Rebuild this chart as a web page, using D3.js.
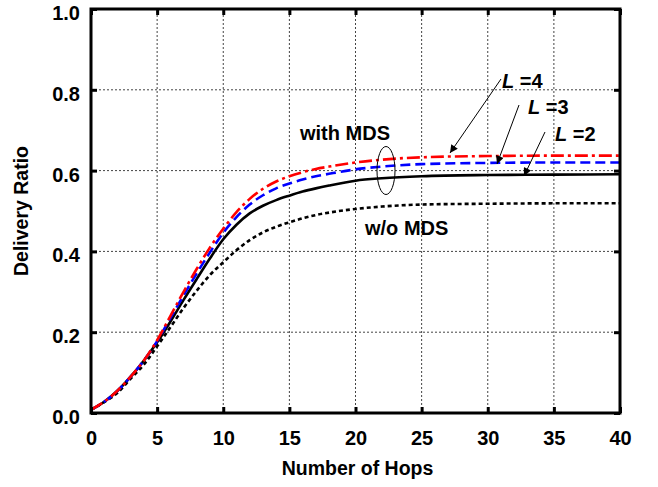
<!DOCTYPE html>
<html>
<head>
<meta charset="utf-8">
<script src="https://cdn.jsdelivr.net/npm/d3@7"></script>
<style>
  html, body { margin: 0; padding: 0; background: #fff; }
  svg { display: block; font-family: "Liberation Sans", Arial, sans-serif; font-weight: bold; }
</style>
</head>
<body>
<svg id="chart" width="658" height="487"></svg>
<script>
// Delivery ratio vs. number of hops
const hops = [0, 1, 2, 3, 4, 5, 6, 7, 8, 9, 10, 11, 12, 13, 14, 15, 16, 17, 18, 20, 22, 25, 30, 35, 40];
const withMdsL4 = [0.008, 0.028, 0.055, 0.09, 0.13, 0.18, 0.24, 0.30, 0.357, 0.41, 0.456, 0.497, 0.530, 0.555, 0.573, 0.586, 0.596, 0.604, 0.610, 0.620, 0.627, 0.633, 0.636, 0.637, 0.637];
const withMdsL3 = [0.008, 0.028, 0.055, 0.09, 0.13, 0.178, 0.235, 0.291, 0.346, 0.398, 0.446, 0.485, 0.516, 0.539, 0.556, 0.568, 0.578, 0.586, 0.592, 0.603, 0.610, 0.616, 0.619, 0.620, 0.620];
const withMdsL2 = [0.008, 0.028, 0.055, 0.09, 0.13, 0.175, 0.226, 0.28, 0.332, 0.383, 0.430, 0.466, 0.494, 0.513, 0.527, 0.538, 0.548, 0.556, 0.563, 0.575, 0.581, 0.586, 0.589, 0.590, 0.591];
const withoutMds = [0.008, 0.027, 0.05, 0.085, 0.12, 0.165, 0.212, 0.26, 0.303, 0.342, 0.373, 0.403, 0.428, 0.447, 0.461, 0.472, 0.482, 0.490, 0.496, 0.505, 0.511, 0.516, 0.518, 0.519, 0.519];
const xTicks = [0, 5, 10, 15, 20, 25, 30, 35, 40];
const yTicks = [0.0, 0.2, 0.4, 0.6, 0.8, 1.0];

const svg = d3.select("#chart");
const x = d3.scaleLinear().domain([0, 40]).range([91, 620]);
const y = d3.scaleLinear().domain([0, 1]).range([413, 9]);

// dotted grid
const grid = svg.append("g").attr("stroke", "#444").attr("stroke-width", 1).attr("stroke-dasharray", "2,2");
xTicks.slice(1, -1).forEach(t => grid.append("line")
  .attr("x1", x(t)).attr("x2", x(t)).attr("y1", y(0)).attr("y2", y(1)));
yTicks.slice(1, -1).forEach(t => grid.append("line")
  .attr("x1", x(0)).attr("x2", x(40)).attr("y1", y(t)).attr("y2", y(t)));

// curves
const line = d3.line().x((d, i) => x(hops[i])).y(d => y(d)).curve(d3.curveMonotoneX);
const series = [
  { v: withoutMds, color: "#000", dash: "4,3" },
  { v: withMdsL2, color: "#000", dash: null },
  { v: withMdsL3, color: "#0000ff", dash: "10,5" },
  { v: withMdsL4, color: "#ff0000", dash: "13,4,3,4" }
];
series.forEach(s => svg.append("path")
  .attr("d", line(s.v))
  .attr("fill", "none")
  .attr("stroke", s.color)
  .attr("stroke-width", 2.6)
  .attr("stroke-dasharray", s.dash));

// axes with inward ticks on all four sides
const tickLen = 6;
const axB = svg.append("g").attr("transform", `translate(0,${y(0)})`)
  .call(d3.axisBottom(x).tickValues(xTicks).tickSize(-tickLen).tickPadding(18).tickFormat(d3.format("d")));
const axT = svg.append("g").attr("transform", `translate(0,${y(1)})`)
  .call(d3.axisTop(x).tickValues(xTicks).tickSize(-tickLen).tickFormat(""));
const axL = svg.append("g").attr("transform", `translate(${x(0)},0)`)
  .call(d3.axisLeft(y).tickValues(yTicks).tickSize(-tickLen).tickPadding(11).tickFormat(d3.format(".1f")));
const axR = svg.append("g").attr("transform", `translate(${x(40)},0)`)
  .call(d3.axisRight(y).tickValues(yTicks).tickSize(-tickLen).tickFormat(""));
[axB, axT, axL, axR].forEach(a => {
  a.select(".domain").remove();
  a.selectAll(".tick line").attr("stroke", "#000").attr("stroke-width", 3);
  a.selectAll("text").attr("font-family", "'Liberation Sans', Arial, sans-serif")
    .attr("font-weight", "bold").attr("font-size", 20).attr("fill", "#000");
});
// value labels sit slightly below their ticks
axL.selectAll("text").attr("dy", "0.52em");

// frame
svg.append("rect").attr("x", x(0)).attr("y", y(1))
  .attr("width", x(40) - x(0)).attr("height", y(0) - y(1))
  .attr("fill", "none").attr("stroke", "#000").attr("stroke-width", 3);

// axis titles
svg.append("text").attr("x", (x(0) + x(40)) / 2 + 2).attr("y", 475)
  .attr("text-anchor", "middle").attr("font-size", 19.5).text("Number of Hops");
svg.append("text").attr("transform", `translate(28,${(y(0) + y(1)) / 2}) rotate(-90)`)
  .attr("text-anchor", "middle").attr("font-size", 19.5).text("Delivery Ratio");

// annotations
svg.append("text").attr("x", 300).attr("y", 140).attr("font-size", 20).text("with MDS");
svg.append("text").attr("x", 365).attr("y", 235).attr("font-size", 20).text("w/o MDS");
svg.append("ellipse").attr("cx", 386).attr("cy", 170.5).attr("rx", 9).attr("ry", 24)
  .attr("fill", "none").attr("stroke", "#000").attr("stroke-width", 1);

svg.append("defs").append("marker").attr("id", "arrow")
  .attr("viewBox", "0 0 10 10").attr("refX", 10).attr("refY", 5)
  .attr("markerWidth", 10).attr("markerHeight", 8).attr("markerUnits", "userSpaceOnUse")
  .attr("orient", "auto")
  .append("path").attr("d", "M0,0 L10,5 L0,10 Z").attr("fill", "#000");

const labels = [
  { name: "4", tx: 502, ty: 88, from: [501, 79], to: [450, 153] },
  { name: "3", tx: 528, ty: 114, from: [519, 105], to: [497, 164] },
  { name: "2", tx: 555, ty: 141, from: [545, 132], to: [524, 176] }
];
labels.forEach(l => {
  const t = svg.append("text").attr("x", l.tx).attr("y", l.ty).attr("font-size", 20);
  t.append("tspan").attr("font-style", "italic").text("L");
  t.append("tspan").text(" =" + l.name);
  svg.append("line").attr("x1", l.from[0]).attr("y1", l.from[1])
    .attr("x2", l.to[0]).attr("y2", l.to[1])
    .attr("stroke", "#000").attr("stroke-width", 1).attr("marker-end", "url(#arrow)");
});
</script>
</body>
</html>
